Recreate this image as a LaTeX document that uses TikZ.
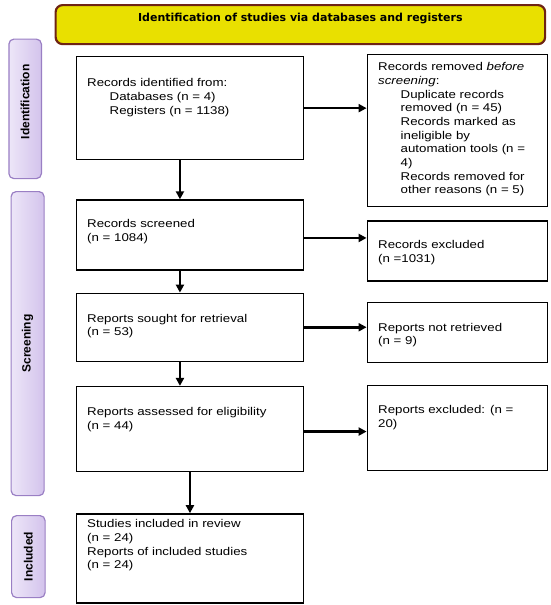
\documentclass[tikz,border=0pt]{standalone}
\usepackage{fontspec}
\setmainfont[FakeStretch=1.18]{Liberation Sans}
\newfontfamily\headfont{DejaVu Sans}
\newfontfamily\sidefont{Liberation Sans}
\usetikzlibrary{arrows.meta, positioning}
\definecolor{headfill}{HTML}{E9E000}
\definecolor{headline}{HTML}{6E2414}
\definecolor{sidel}{HTML}{EDE6F8}
\definecolor{sider}{HTML}{D3C3EC}
\definecolor{sideline}{HTML}{9A7FC4}
\newcommand{\ind}{\hspace*{22.5pt}}
\tikzset{
  box/.style     = {draw=black, line width=1.3pt, anchor=north west, inner sep=0pt},
  txt/.style     = {align=left, inner sep=0pt, font=\fontsize{11.25}{13.7}\selectfont},
  head/.style    = {draw=headline, fill=headfill, line width=2.2pt, rounded corners=7pt,
                    anchor=north west, inner sep=0pt},
  headtxt/.style = {inner sep=0pt, font=\headfont\bfseries\fontsize{11}{13}\selectfont},
  side/.style    = {draw=sideline, left color=sidel, right color=sider, line width=1.2pt,
                    rounded corners=5pt, anchor=north west, inner sep=0pt},
  sidelbl/.style = {rotate=90, inner sep=0pt, font=\sidefont\bfseries\fontsize{12}{12}\selectfont},
  flow/.style    = {-{Triangle[length=8pt, width=8pt]}, line width=2.6pt}
}

\begin{document}
\begin{tikzpicture}[x=1pt, y=-1pt]
  \useasboundingbox (0,0) rectangle (550,605);

  % header
  \node[head, minimum width=489.5pt, minimum height=39pt] (title) at (54.5,4) {};
  \node[headtxt, below=9pt of title.north] (titletxt) {Identification of studies via databases and registers};

  % phase bars
  \node[side, minimum width=32.5pt, minimum height=139.5pt] (sideid) at (8.3,38.5) {};
  \node[side, minimum width=33pt, minimum height=304pt] (sidescr) at (10.5,191) {};
  \node[side, minimum width=33.5pt, minimum height=82pt] (sideinc) at (11,515) {};
  \node[sidelbl] (lblid) at ([yshift=7pt]sideid.center) {Identification};
  \node[sidelbl] (lblscr) at (sidescr.center) {Screening};
  \node[sidelbl] (lblinc) at (sideinc.center) {Included};

  % main column
  \node[box, minimum width=227.4pt, minimum height=103pt] (ident) at (75.6,56) {};
  \node[box, below=39pt of ident, minimum width=227.4pt, minimum height=70pt] (screen) {};
  \node[box, below=22pt of screen, minimum width=227.4pt, minimum height=68pt] (sought) {};
  \node[box, below=24pt of sought, minimum width=227.4pt, minimum height=85pt] (assess) {};
  \node[box, below=41pt of assess, minimum width=227.4pt, minimum height=89pt] (incl) {};

  % exclusions
  \node[box, minimum width=180pt, minimum height=152pt] (removed) at (366.6,54) {};
  \node[box, below=13pt of removed, minimum width=180pt, minimum height=60pt] (excl) {};
  \node[box, below=20pt of excl, minimum width=180pt, minimum height=60pt] (notret) {};
  \node[box, below=22pt of notret, minimum width=180pt, minimum height=85pt] (repexcl) {};

  % texts
  \node[txt, below right=22.3pt and 11.4pt of ident.north west] (identtxt)
       {Records identified from:\\ \ind Databases (n = 4)\\ \ind Registers (n = 1138)};
  \node[txt, below right=20.3pt and 11.4pt of screen.north west] (screentxt)
       {Records screened\\ (n = 1084)};
  \node[txt, below right=21.3pt and 11.4pt of sought.north west] (soughttxt)
       {Reports sought for retrieval\\ (n = 53)};
  \node[txt, below right=21.3pt and 11.4pt of assess.north west] (assesstxt)
       {Reports assessed for eligibility\\ (n = 44)};
  \node[txt, below right=6.3pt and 11.4pt of incl.north west] (incltxt)
       {Studies included in review\\ (n = 24)\\ Reports of included studies\\ (n = 24)};
  \node[txt, below right=8.3pt and 11.4pt of removed.north west] (removedtxt)
       {Records removed \textit{before}\\ \textit{screening}:\\
        \ind Duplicate records\\ \ind removed (n = 45)\\
        \ind Records marked as\\ \ind ineligible by\\
        \ind automation tools (n =\\ \ind 4)\\
        \ind Records removed for\\ \ind other reasons (n = 5)};
  \node[txt, below right=20.3pt and 11.4pt of excl.north west] (excltxt)
       {Records excluded\\ (n =1031)};
  \node[txt, below right=21.3pt and 11.4pt of notret.north west] (notrettxt)
       {Reports not retrieved\\ (n = 9)};
  \node[txt, below right=20.3pt and 11.4pt of repexcl.north west] (repexcltxt)
       {Reports excluded: (n =\\ 20)};

  % arrows
  \draw[flow] ([xshift=-10pt]ident.south) -- ([xshift=-10pt]screen.north);
  \draw[flow] ([xshift=-10pt]screen.south) -- ([xshift=-10pt]sought.north);
  \draw[flow] ([xshift=-10pt]sought.south) -- ([xshift=-10pt]assess.north);
  \draw[flow] (assess.south) -- (incl.north);
  \draw[flow] (ident.east) -- (ident.east -| removed.west);
  \draw[flow] ([yshift=-3pt]screen.east) -- ([yshift=-3pt]screen.east -| excl.west);
  \draw[flow] (sought.east) -- (sought.east -| notret.west);
  \draw[flow] ([yshift=-2.5pt]assess.east) -- ([yshift=-2.5pt]assess.east -| repexcl.west);
\end{tikzpicture}
\end{document}
